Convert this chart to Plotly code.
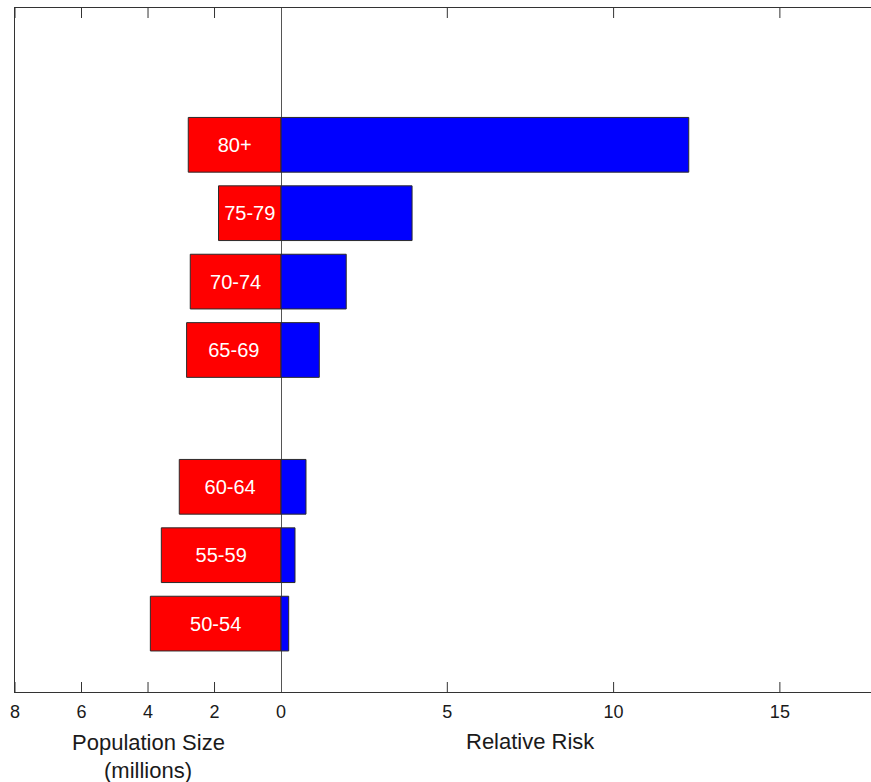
import plotly.graph_objects as go

age_groups = ["80+", "75-79", "70-74", "65-69", "60-64", "55-59", "50-54"]
y_positions = [8, 7, 6, 5, 3, 2, 1]
population_millions = [2.79, 1.88, 2.73, 2.84, 3.06, 3.60, 3.93]
relative_risk = [12.26, 3.94, 1.96, 1.15, 0.75, 0.42, 0.23]

left_tickvals = [-8, -6, -4, -2, 0]
right_tickvals = [5, 10, 15]
tickvals = left_tickvals + right_tickvals
ticktext = [str(abs(v)) for v in tickvals]

FONT = "Liberation Sans, Arial, Helvetica, sans-serif"
EDGE = "#2b2b2b"
AXIS = "#333"

W, H = 871, 782
M = dict(l=15, r=0, t=8, b=90)
TICK_PX = 10
tick_frac = TICK_PX / (H - M["t"] - M["b"])

fig = go.Figure()
fig.add_trace(go.Bar(
    y=y_positions, x=[-p for p in population_millions], orientation="h",
    width=0.8, marker=dict(color="#ff0000", line=dict(color=EDGE, width=1)),
    text=age_groups, textposition="inside", insidetextanchor="middle",
    constraintext="none", textangle=0,
    insidetextfont=dict(family=FONT, size=20, color="white"),
    hoverinfo="skip", showlegend=False,
))
fig.add_trace(go.Bar(
    y=y_positions, x=relative_risk, orientation="h",
    width=0.8, marker=dict(color="#0000ff", line=dict(color=EDGE, width=1)),
    hoverinfo="skip", showlegend=False,
))

fig.update_layout(
    width=W, height=H,
    margin=M,
    paper_bgcolor="white", plot_bgcolor="white",
    barmode="overlay",
    font=dict(family=FONT, color="#1a1a1a"),
    xaxis=dict(
        range=[-8, 17.74], tickmode="array", tickvals=tickvals, ticktext=ticktext,
        ticks="", showline=True, linecolor=AXIS, linewidth=1, mirror=True,
        showgrid=False, zeroline=True, zerolinecolor="#555", zerolinewidth=1,
        tickfont=dict(size=18, color="#1a1a1a"), ticklabelstandoff=3,
    ),
    yaxis=dict(
        range=[0, 10], showticklabels=False, ticks="",
        showline=True, linecolor=AXIS, linewidth=1, mirror=False,
        showgrid=False, zeroline=False,
    ),
)

# inside tick marks on bottom and top axes
for v in tickvals:
    if v == 0:
        continue
    fig.add_shape(type="line", xref="x", yref="paper", x0=v, x1=v,
                  y0=0, y1=tick_frac,
                  line=dict(color=AXIS, width=1), layer="above")
    fig.add_shape(type="line", xref="x", yref="paper", x0=v, x1=v,
                  y0=1, y1=1 - tick_frac,
                  line=dict(color=AXIS, width=1), layer="above")

ann_font = dict(family=FONT, size=22, color="#1a1a1a")
fig.add_annotation(x=-4, y=0, xref="x", yref="paper", text="Population Size",
                   showarrow=False, yanchor="middle", yshift=-50, font=ann_font)
fig.add_annotation(x=-4, y=0, xref="x", yref="paper", text="(millions)",
                   showarrow=False, yanchor="middle", yshift=-78, font=ann_font)
fig.add_annotation(x=7.5, y=0, xref="x", yref="paper", text="Relative Risk",
                   showarrow=False, yanchor="middle", yshift=-49, font=ann_font)

fig.write_html(
    "out.html",
    config={"displayModeBar": False},
    post_script="document.body.style.margin='0';document.body.style.overflow='hidden';",
)
